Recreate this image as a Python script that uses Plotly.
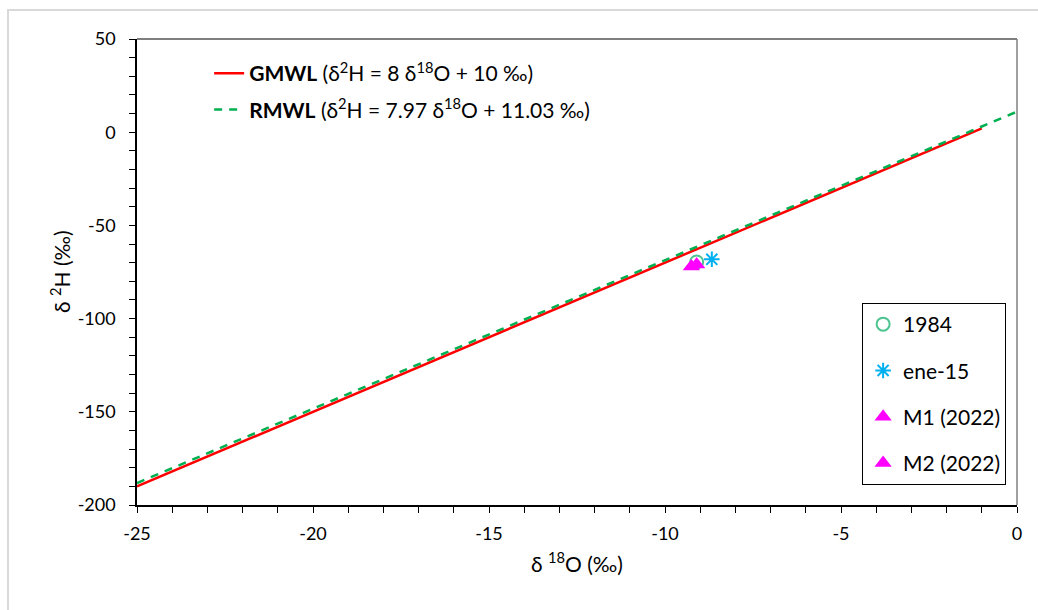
import plotly.graph_objects as go

# Meteoric water lines (endpoints)
gmwl_x = [-25, -1]
gmwl_y = [-190, 2]
rmwl_x = [-25, 0]
rmwl_y = [-188.22, 11.03]

# Samples
s1984_x = [-9.1]
s1984_y = [-69.6]
ene15_x = [-8.67]
ene15_y = [-68.2]
m1_x = [-9.25]
m1_y = [-72.0]
m2_x = [-9.1]
m2_y = [-71.0]

# Tick labels
x_ticks = [-25, -20, -15, -10, -5, 0]
x_labels = ["-25", "-20", "-15", "-10", "-5", "0"]
y_ticks = [-200, -150, -100, -50, 0, 50]
y_labels = ["-200", "-150", "-100", "-50", "0", "50"]

FONT = "Lato"
fig = go.Figure()

fig.add_trace(go.Scatter(x=gmwl_x, y=gmwl_y, mode="lines",
                         line=dict(color="#FF0000", width=2.5),
                         name="<b>GMWL</b> (δ<sup>2</sup>H = 8 δ<sup>18</sup>O + 10 ‰)",
                         legend="legend", legendgroup="g1"))
fig.add_trace(go.Scatter(x=rmwl_x, y=rmwl_y, mode="lines",
                         line=dict(color="#00B050", width=2.5, dash="8px,7px"),
                         name="<b>RMWL</b> (δ<sup>2</sup>H = 7.97 δ<sup>18</sup>O + 11.03 ‰)",
                         legend="legend", legendgroup="g2"))

fig.add_trace(go.Scatter(x=s1984_x, y=s1984_y, mode="markers", name="1984",
                         marker=dict(symbol="circle-open", size=13, color="#4CC490",
                                     line=dict(width=2, color="#4CC490")),
                         legend="legend2", legendgroup="a"))
fig.add_trace(go.Scatter(x=ene15_x, y=ene15_y, mode="markers", name="ene-15",
                         marker=dict(symbol="asterisk-open", size=13, color="#00B0F0",
                                     line=dict(width=2, color="#00B0F0")),
                         legend="legend2", legendgroup="b"))
fig.add_trace(go.Scatter(x=m1_x, y=m1_y, mode="markers", name="M1 (2022)",
                         marker=dict(symbol="triangle-up", size=15, color="#FF00FF"),
                         legend="legend2", legendgroup="c"))
fig.add_trace(go.Scatter(x=m2_x, y=m2_y, mode="markers", name="M2 (2022)",
                         marker=dict(symbol="triangle-up", size=15, color="#FF00FF"),
                         legend="legend2", legendgroup="d"))

axis_common = dict(showgrid=False, zeroline=False, showline=True, linecolor="black",
                   linewidth=1.5, ticks="outside", ticklen=6, tickwidth=1.2,
                   tickcolor="black", tickfont=dict(family=FONT, size=18, color="black"))

fig.update_xaxes(range=[-25, 0], tickvals=x_ticks, ticktext=x_labels,
                 minor=dict(dtick=1, tick0=-25, ticks="outside", ticklen=6, tickwidth=1.2,
                            tickcolor="black"),
                 title=dict(text="δ <sup>18</sup>O (‰)", font=dict(family=FONT, size=21, color="black"),
                            standoff=14),
                 ticklabelstandoff=6,
                 **axis_common)
fig.update_yaxes(range=[-200, 50], tickvals=y_ticks, ticktext=y_labels,
                 minor=dict(dtick=10, tick0=-200, ticks="outside", ticklen=6, tickwidth=1.2,
                            tickcolor="black"),
                 ticklabelstandoff=10,
                 **axis_common)

fig.update_layout(
    width=1038, height=610,
    margin=dict(l=137, r=21, t=39, b=105),
    paper_bgcolor="white", plot_bgcolor="white",
    font=dict(family=FONT, size=18, color="black"),
    legend=dict(x=0.082, y=0.97, xanchor="left", yanchor="top",
                bgcolor="rgba(0,0,0,0)", borderwidth=0,
                font=dict(family=FONT, size=21, color="black"),
                tracegroupgap=6),
    legend2=dict(x=0.824, y=0.4335, xanchor="left", yanchor="top",
                 bgcolor="white", bordercolor="black", borderwidth=1,
                 font=dict(family=FONT, size=21, color="black"),
                 tracegroupgap=16),
    annotations=[
        dict(text="δ <sup>2</sup>H (‰)", xref="paper", yref="paper",
             x=-0.0875, y=0.5, textangle=-90, showarrow=False,
             xanchor="center", yanchor="middle",
             font=dict(family=FONT, size=21, color="black")),
    ],
    shapes=[
        dict(type="line", xref="paper", yref="paper", x0=0, x1=1, y0=1, y1=1,
             line=dict(color="black", width=1.2)),
        dict(type="line", xref="paper", yref="paper", x0=1, x1=1, y0=0, y1=1,
             line=dict(color="#808080", width=1.5)),
        dict(type="rect", xref="paper", yref="paper", x0=-0.1466, x1=1.04,
             y0=-0.24, y1=1.0622, line=dict(color="#D9D9D9", width=2), layer="below"),
    ],
)

fig.write_html("out.html")
